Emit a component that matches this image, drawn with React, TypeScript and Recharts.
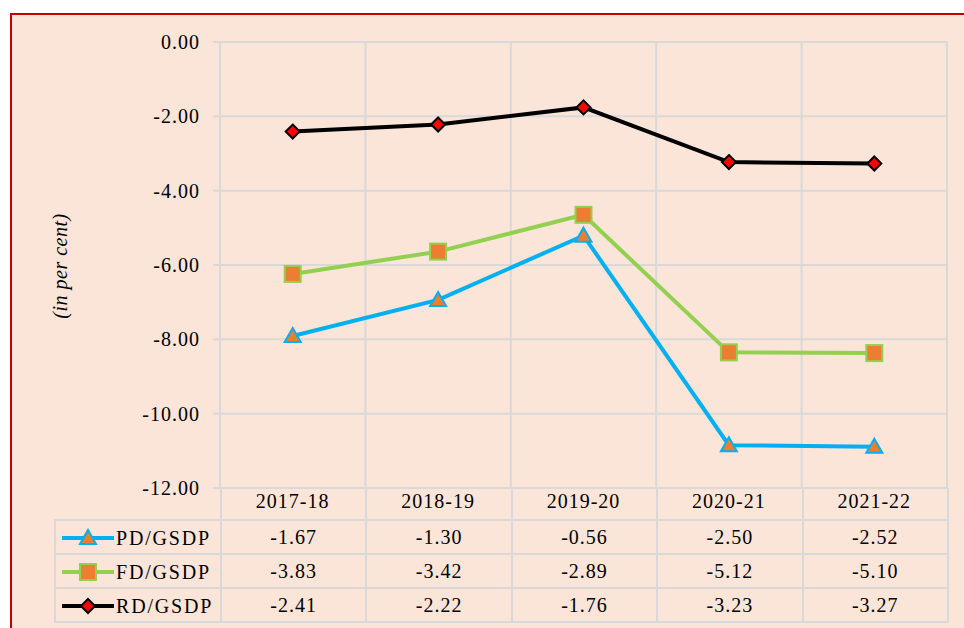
import React from "react";
import {
  LineChart,
  Line,
  XAxis,
  YAxis,
  CartesianGrid,
  ReferenceLine,
} from "recharts";

const years = ["2017-18", "2018-19", "2019-20", "2020-21", "2021-22"];
const pdGsdp = [-1.67, -1.3, -0.56, -2.5, -2.52];
const fdGsdp = [-3.83, -3.42, -2.89, -5.12, -5.1];
const rdGsdp = [-2.41, -2.22, -1.76, -3.23, -3.27];
const yTicks = [0, -2, -4, -6, -8, -10, -12];

// the lines are stacked: RD, then FD on top of RD, then PD on top of both
const chartData = years.map((year, i) => ({
  x: i + 0.5,
  year,
  rd: rdGsdp[i],
  fd: rdGsdp[i] + fdGsdp[i],
  pd: rdGsdp[i] + fdGsdp[i] + pdGsdp[i],
}));

const BG = "#FAE5D8";
const GRID = "#D9D9D9";
const BLUE = "#00B0F0";
const GREEN = "#92D050";
const ORANGE = "#ED7D31";
const FONT = "'Liberation Serif', 'Times New Roman', serif";

const W = 964;
const H = 628;
const PLOT_LEFT = 220;
const PLOT_RIGHT = 947;
const PLOT_BOTTOM = 488;
const LEGEND_LEFT = 54;

function Triangle({ cx, cy }: any) {
  if (cx == null || cy == null) return null;
  return (
    <path
      d={`M${cx},${cy - 8} L${cx + 8},${cy + 6} L${cx - 8},${cy + 6} Z`}
      fill={ORANGE}
      stroke={BLUE}
      strokeWidth={2}
    />
  );
}

function Square({ cx, cy }: any) {
  if (cx == null || cy == null) return null;
  return (
    <rect x={cx - 8} y={cy - 8} width={16} height={16} fill={ORANGE} stroke={GREEN} strokeWidth={2} />
  );
}

function Diamond({ cx, cy }: any) {
  if (cx == null || cy == null) return null;
  return (
    <path
      d={`M${cx},${cy - 7} L${cx + 7},${cy} L${cx},${cy + 7} L${cx - 7},${cy} Z`}
      fill="#FF0000"
      stroke="#000"
      strokeWidth={2}
    />
  );
}

const rows = [
  { name: "PD/GSDP", values: pdGsdp, color: BLUE, Marker: Triangle },
  { name: "FD/GSDP", values: fdGsdp, color: GREEN, Marker: Square },
  { name: "RD/GSDP", values: rdGsdp, color: "#000", Marker: Diamond },
];

const cellBorder = `2px solid ${GRID}`;

function DataTable() {
  const colW = (PLOT_RIGHT - PLOT_LEFT) / years.length;
  return (
    <table
      style={{
        position: "absolute",
        left: LEGEND_LEFT,
        top: PLOT_BOTTOM,
        width: PLOT_RIGHT - LEGEND_LEFT,
        borderCollapse: "collapse",
        tableLayout: "fixed",
        fontFamily: FONT,
        fontSize: 20,
        letterSpacing: 1,
        color: "#000",
      }}
    >
      <colgroup>
        <col style={{ width: PLOT_LEFT - LEGEND_LEFT }} />
        {years.map((y) => (
          <col key={y} style={{ width: colW }} />
        ))}
      </colgroup>
      <tbody>
        <tr style={{ height: 32 }}>
          <td style={{ border: "none", padding: 0 }} />
          {years.map((y) => (
            <td key={y} style={{ borderLeft: cellBorder, borderRight: cellBorder, padding: 0 }} />
          ))}
        </tr>
        {rows.map(({ name, values, color, Marker }) => (
          <tr key={name} style={{ height: 34 }}>
            <td style={{ border: cellBorder, padding: 0, whiteSpace: "nowrap" }}>
              <svg width={56} height={20} style={{ verticalAlign: "middle", marginLeft: 4 }}>
                <line x1={2} y1={10} x2={54} y2={10} stroke={color} strokeWidth={4} />
                <Marker cx={28} cy={10} />
              </svg>
              <span style={{ verticalAlign: "middle", letterSpacing: 1.8 }}>{name}</span>
            </td>
            {values.map((v, i) => (
              <td key={i} style={{ border: cellBorder, padding: 0, textAlign: "center" }}>
                {v.toFixed(2)}
              </td>
            ))}
          </tr>
        ))}
      </tbody>
    </table>
  );
}

export default function App() {
  return (
    <div style={{ position: "absolute", left: 0, top: 0, width: W, height: H, overflow: "hidden" }}>
      <div
        style={{
          position: "absolute",
          left: 10,
          top: 13,
          width: W,
          height: H,
          background: BG,
          borderLeft: "2px solid #C00000",
          borderTop: "2px solid #C00000",
        }}
      />
      <DataTable />
      <div
        style={{
          position: "absolute",
          left: 60,
          top: 266,
          transform: "translate(-50%, -50%) rotate(-90deg)",
          fontFamily: FONT,
          fontStyle: "italic",
          fontSize: 20,
          letterSpacing: 0.5,
          whiteSpace: "nowrap",
        }}
      >
        (in per cent)
      </div>
      <div style={{ position: "absolute", left: 0, top: 0 }}>
        <LineChart
          width={W}
          height={H}
          data={chartData}
          margin={{ top: 42, right: W - PLOT_RIGHT, bottom: 108, left: 140 }}
        >
          <CartesianGrid vertical={false} stroke={GRID} strokeWidth={2} />
          {[1, 2, 3, 4, 5].map((b) => (
            <ReferenceLine key={b} x={b} stroke={GRID} strokeWidth={2} />
          ))}
          <XAxis
            type="number"
            dataKey="x"
            domain={[0, 5]}
            ticks={chartData.map((d) => d.x)}
            tickFormatter={(v: number) => years[Math.floor(v)]}
            height={32}
            axisLine={false}
            tickLine={false}
            tick={{ fill: "#000", fontSize: 20, fontFamily: FONT, letterSpacing: 1 }}
            tickMargin={0}
            interval={0}
          />
          <YAxis
            width={80}
            domain={[-12, 0]}
            ticks={yTicks}
            tickFormatter={(v: number) => v.toFixed(2)}
            axisLine={{ stroke: GRID, strokeWidth: 2 }}
            tickLine={{ stroke: GRID, strokeWidth: 2 }}
            tickSize={7}
            tickMargin={13}
            tick={{ fill: "#000", fontSize: 20, fontFamily: FONT, letterSpacing: 1 }}
            interval={0}
          />
          <Line
            dataKey="pd"
            stroke={BLUE}
            strokeWidth={4}
            dot={<Triangle />}
            isAnimationActive={false}
          />
          <Line
            dataKey="fd"
            stroke={GREEN}
            strokeWidth={4}
            dot={<Square />}
            isAnimationActive={false}
          />
          <Line
            dataKey="rd"
            stroke="#000"
            strokeWidth={4}
            dot={<Diamond />}
            isAnimationActive={false}
          />
        </LineChart>
      </div>
    </div>
  );
}
